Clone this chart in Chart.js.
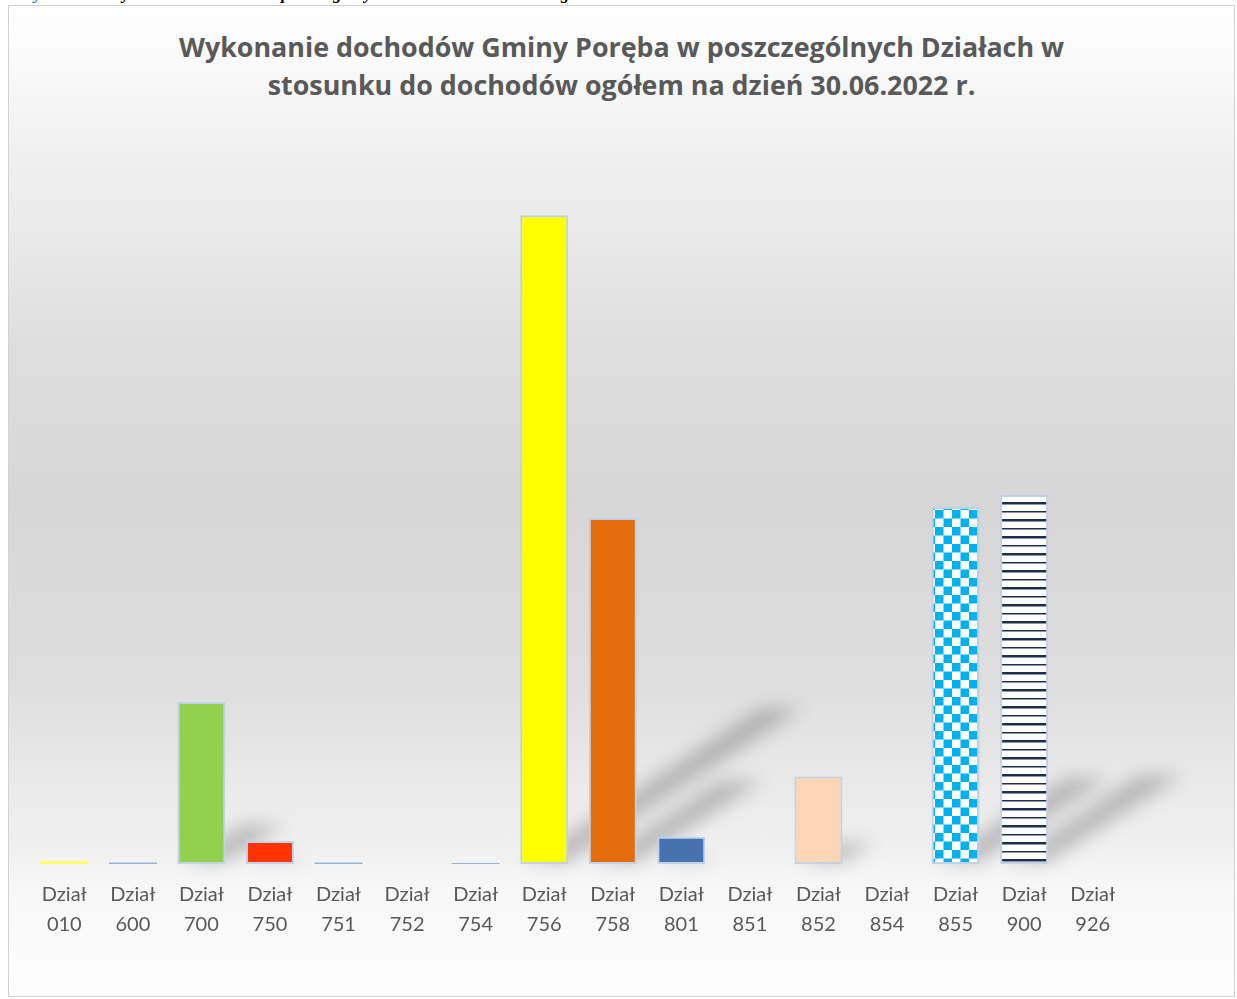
<!DOCTYPE html>
<html>
<head>
<meta charset="utf-8">
<script src="https://cdn.jsdelivr.net/npm/chart.js@4"></script>
<style>
  body { margin: 0; width: 1237px; height: 999px; overflow: hidden; position: relative; background: #fff; }
  #caption { position: absolute; left: 20px; top: -16px; font: italic bold 17px "Liberation Serif"; white-space: nowrap; color: #000; }
  #caption span { color: #2e74b5; }
  #frame { position: absolute; left: 8px; top: 5px; width: 1225px; height: 990px; border: 1px solid #d2d2d2;
           background: linear-gradient(to bottom, #ffffff 0%, #f3f3f3 12%, #dedede 35%, #d6d6d6 50%, #dedede 68%, #f0f0f0 85%, #f7f7f7 89%, #fdfdfd 100%); }
  #title { position: absolute; left: 8px; width: 1227px; top: 28px; text-align: center; font: bold 26.85px "Open Sans"; color: #595959; line-height: 38px; }
  canvas { position: absolute; left: 0; top: 0; }
</style>
</head>
<body>
<div id="caption"><span>Wykres nr 1</span> Wykonanie dochodów w poszczególnych działach do dochodów ogółem</div>
<div id="frame"></div>
<div id="title">Wykonanie dochodów Gminy Poręba w poszczególnych Działach w<br>stosunku do dochodów ogółem na dzień 30.06.2022 r.</div>
<canvas id="chart" width="1237" height="999"></canvas>
<script>
// data (share of total income, %)
const categories = ['010', '600', '700', '750', '751', '752', '754', '756', '758', '801', '851', '852', '854', '855', '900', '926'];
const shareValues = [0.15, 0.07, 7.99, 1.14, 0.07, 0, 0.05, 32.0, 17.06, 1.34, 0, 4.32, 0, 17.61, 18.2, 0];

// checkered fill for 855
function checkerPattern() {
    const c = document.createElement('canvas');
    c.width = 17; c.height = 17;
    const g = c.getContext('2d');
    g.fillStyle = '#ffffff';
    g.fillRect(0, 0, 17, 17);
    g.fillStyle = '#00b0f0';
    g.fillRect(0, 0, 8.5, 8.5);
    g.fillRect(8.5, 8.5, 8.5, 8.5);
    return g.createPattern(c, 'repeat');
}

// horizontal stripes for 900
function stripePattern() {
    const c = document.createElement('canvas');
    c.width = 10; c.height = 17;
    const g = c.getContext('2d');
    g.fillStyle = '#ffffff';
    g.fillRect(0, 0, 10, 17);
    g.fillStyle = '#1c2e4c';
    g.fillRect(0, 1, 10, 1.5);
    g.fillRect(0, 9, 10, 2.5);
    return g.createPattern(c, 'repeat');
}

const barColors = ['#ffff66', '#95b3d7', '#92d050', '#ff3300', '#95b3d7', '#95b3d7', '#95b3d7', '#ffff00',
    '#e46c0a', '#4673ad', '#95b3d7', '#fcd5b5', '#95b3d7', checkerPattern(), stripePattern(), '#95b3d7'];

// soft cast shadows behind the bars
const shadowPlugin = {
    id: 'barShadows',
    beforeDatasetsDraw(chart) {
        const ctx = chart.ctx;
        const meta = chart.getDatasetMeta(0);
        ctx.save();
        ctx.filter = 'blur(9px)';
        ctx.fillStyle = 'rgba(0,0,0,0.22)';
        meta.data.forEach(bar => {
            const h = bar.base - bar.y;
            if (h < 15) return;
            const left = bar.x - bar.width / 2 + 6, right = bar.x + bar.width / 2;
            const dx = h * 0.36, dy = h * 0.24;
            ctx.beginPath();
            ctx.moveTo(left, bar.base - 2);
            ctx.lineTo(right, bar.base - 2);
            ctx.lineTo(right + dx, bar.base - dy);
            ctx.lineTo(left + dx, bar.base - dy);
            ctx.closePath();
            ctx.fill();
        });
        ctx.restore();
    }
};

new Chart(document.getElementById('chart').getContext('2d'), {
    type: 'bar',
    data: {
        labels: categories.map(c => ['Dział', c]),
        datasets: [{
            data: shareValues,
            backgroundColor: barColors,
            borderColor: 'rgba(190,208,232,0.95)',
            borderWidth: shareValues.map(v => v < 0.5 ? 0 : 2),
            borderSkipped: false,
            minBarLength: 0,
            barPercentage: 0.7,
            categoryPercentage: 1
        }]
    },
    options: {
        responsive: false,
        animation: false,
        layout: { padding: { left: 30, right: 110, top: 130, bottom: 51 } },
        plugins: {
            legend: { display: false },
            tooltip: { enabled: false }
        },
        scales: {
            x: {
                grid: { display: false },
                border: { display: false },
                ticks: { color: '#595959', padding: 8, maxRotation: 0, font: { family: 'Lato', size: 20, lineHeight: 1.5 } }
            },
            y: { display: false, min: 0, max: 36.2 }
        }
    },
    plugins: [shadowPlugin]
});
</script>
</body>
</html>
